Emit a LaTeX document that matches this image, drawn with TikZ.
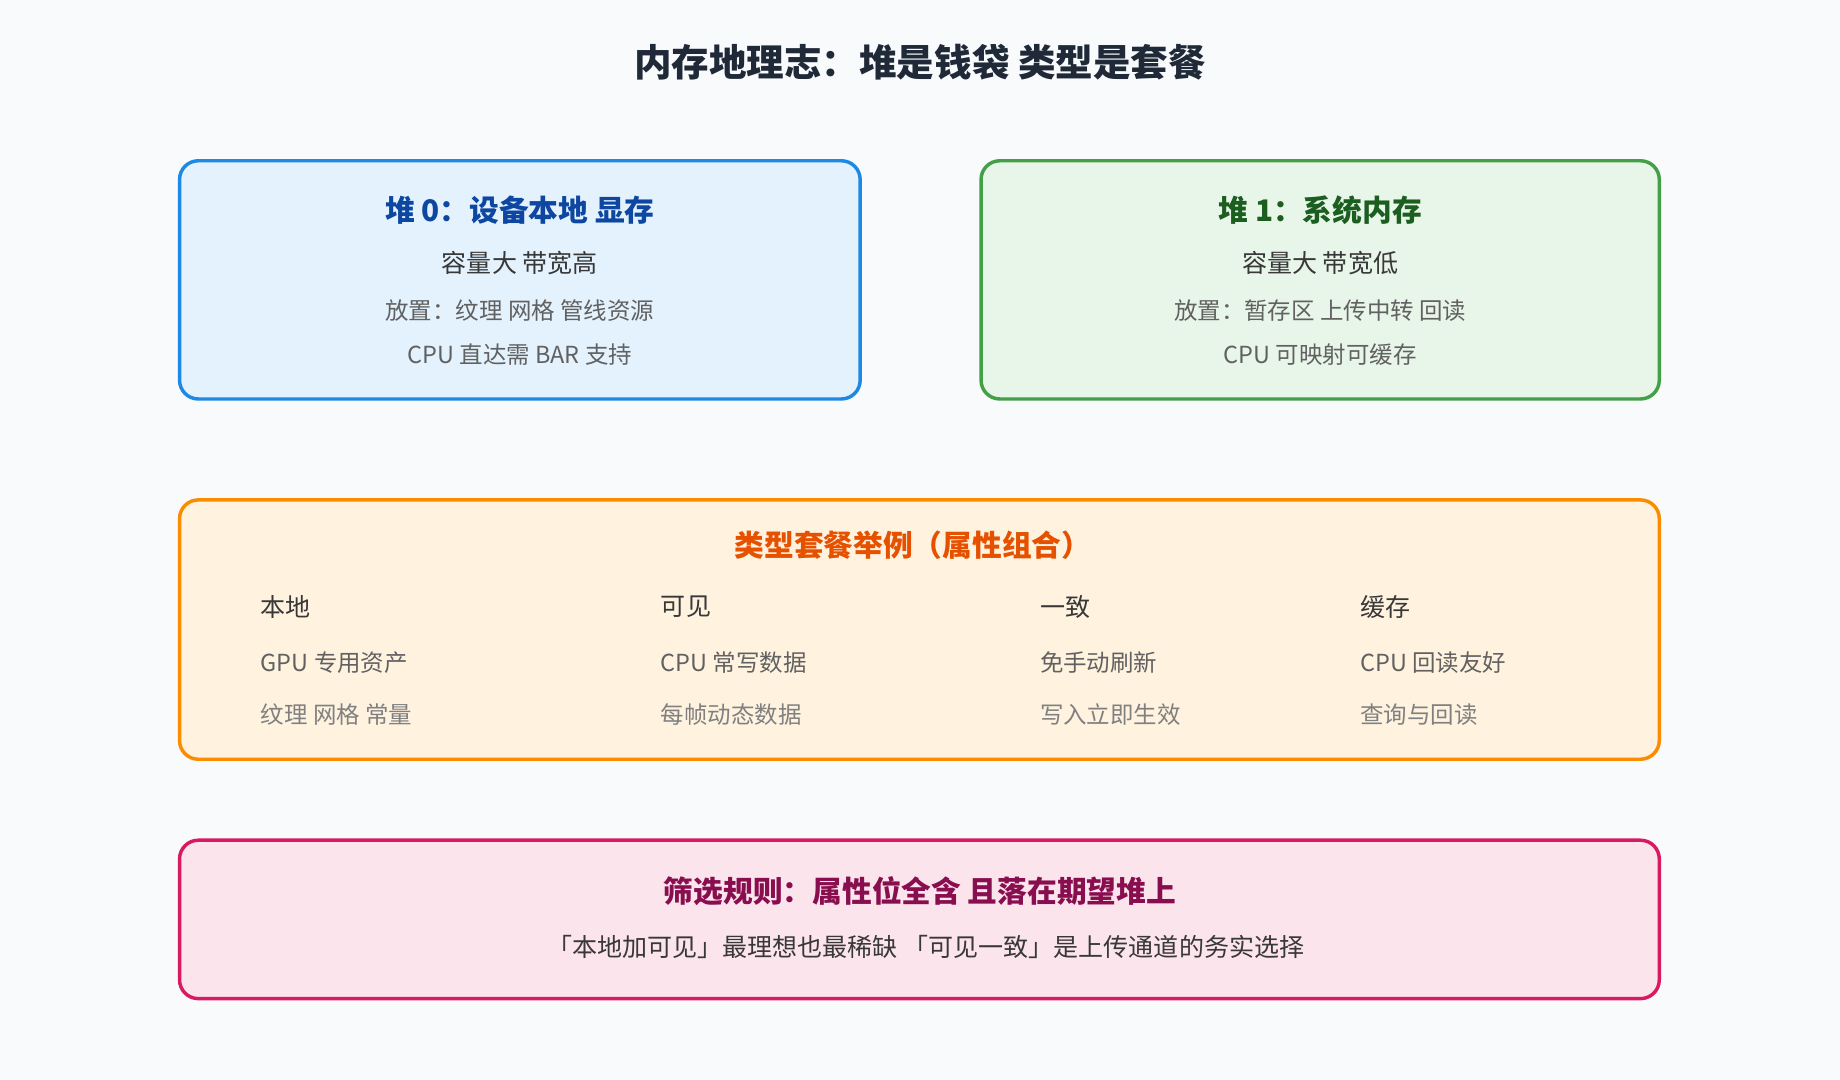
\documentclass[tikz,border=0pt]{standalone}
\usepackage{fontspec}
\setmainfont{Noto Sans CJK SC}
\usepackage{tikz}
\definecolor{bg}{HTML}{F8FAFC}
\definecolor{blueline}{HTML}{1E88E5}\definecolor{bluefill}{HTML}{E3F2FD}\definecolor{bluetext}{HTML}{0D47A1}
\definecolor{greenline}{HTML}{43A047}\definecolor{greenfill}{HTML}{E8F5E9}\definecolor{greentext}{HTML}{1B5E20}
\definecolor{orangeline}{HTML}{FB8C00}\definecolor{orangefill}{HTML}{FFF3E0}\definecolor{orangetext}{HTML}{E65100}
\definecolor{pinkline}{HTML}{D81B60}\definecolor{pinkfill}{HTML}{FCE4EC}\definecolor{pinktext}{HTML}{880E4F}
\definecolor{titletext}{HTML}{1F2937}
\begin{document}
\begin{tikzpicture}[x=0.75pt,y=-0.75pt]
    \tikzset{panel/.style = {rounded corners=12pt,line width=2.2pt}}
    \tikzset{head/.style = {font=\fontsize{19}{22}\selectfont\bfseries}}
    \tikzset{main/.style = {font=\fontsize{16}{19}\selectfont,text=black!78}}
    \tikzset{sub/.style = {font=\fontsize{15}{18}\selectfont,text=black!62}}
    \tikzset{dim/.style = {font=\fontsize{15}{18}\selectfont,text=black!50}}
    % background
    \fill[bg] (0,0) rectangle (1568,920);
    \node[font=\fontsize{24}{28}\selectfont\bfseries,text=titletext] (title) at (784,53) {内存地理志：堆是钱袋 类型是套餐};
    % panels
    \draw[panel,draw=blueline,fill=bluefill] (153,137) rectangle (733,340);
    \draw[panel,draw=greenline,fill=greenfill] (836,137) rectangle (1414,340);
    \draw[panel,draw=orangeline,fill=orangefill] (153,426) rectangle (1414,647);
    \draw[panel,draw=pinkline,fill=pinkfill] (153,716) rectangle (1414,851);
    % heap 0
    \node[head,text=bluetext] (h0) at (443,179) {堆 0：设备本地 显存};
    \node[main] (h0a) at (443,224) {容量大 带宽高};
    \node[sub] (h0b) at (443,265) {放置：纹理 网格 管线资源};
    \node[sub] (h0c) at (443,302) {CPU 直达需 BAR 支持};
    % heap 1
    \node[head,text=greentext] (h1) at (1125,179) {堆 1：系统内存};
    \node[main] (h1a) at (1125,224) {容量大 带宽低};
    \node[sub] (h1b) at (1125,265) {放置：暂存区 上传中转 回读};
    \node[sub] (h1c) at (1125,302) {CPU 可映射可缓存};
    % types
    \node[head,text=orangetext] (types) at (778,465) {类型套餐举例（属性组合）};
    \foreach \x/\a/\b/\c [count=\i] in {222/本地/GPU 专用资产/纹理 网格 常量,
                                       563/可见/CPU 常写数据/每帧动态数据,
                                       886/一致/免手动刷新/写入立即生效,
                                       1159/缓存/CPU 回读友好/查询与回读} {
        \node[main,anchor=west,inner sep=0pt] (c\i a) at (\x,517) {\a};
        \node[sub,anchor=west,inner sep=0pt] (c\i b) at (\x,565) {\b};
        \node[dim,anchor=west,inner sep=0pt] (c\i c) at (\x,609) {\c};
    }
    % rule
    \node[head,text=pinktext] (rule) at (784,759) {筛选规则：属性位全含 且落在期望堆上};
    \node[main] (rulea) at (789,807) {「本地加可见」最理想也最稀缺 「可见一致」是上传通道的务实选择};
\end{tikzpicture}
\end{document}
